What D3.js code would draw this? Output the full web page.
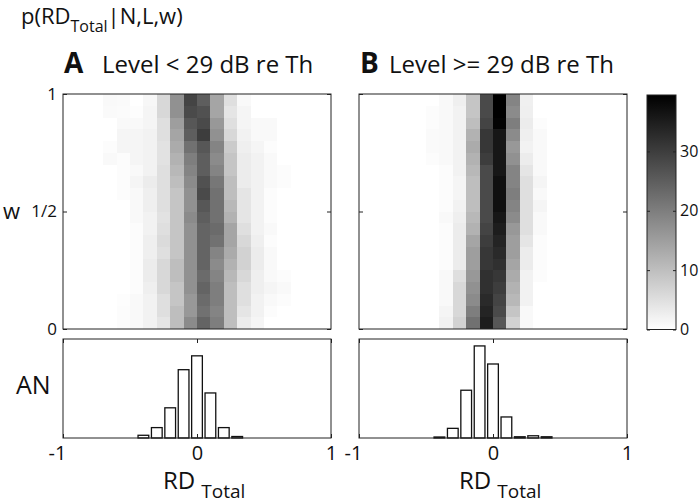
<!DOCTYPE html>
<html><head><meta charset="utf-8">
<script src="https://cdn.jsdelivr.net/npm/d3@7"></script>
<style>
body{margin:0;background:#fff}
svg{display:block}
text{font-family:"Open Sans",sans-serif;fill:#111}
</style>
</head><body><svg id="c" width="700" height="503"></svg>
<script>
// ---------- data ----------
const rdCenters = [-0.95,-0.85,-0.75,-0.65,-0.55,-0.45,-0.35,-0.25,-0.15,-0.05,0.05,0.15,0.25,0.35,0.45,0.55,0.65,0.75,0.85,0.95];
const wCenters = [0.975,0.925,0.875,0.825,0.775,0.725,0.675,0.625,0.575,0.525,0.475,0.425,0.375,0.325,0.275,0.225,0.175,0.125,0.075,0.025];
const heatA = [
[0,0,0,1.0,0.8,0,1.2,6,17,29,25,14,5,1,0,0,0,0,0,0],
[0,0,0,0.8,0.6,0.3,1.5,6,17,28,27,14,4,1.5,0,0,0,0,0,0],
[0,0,0,0,1,1,1.5,5,15,26,28,16,5,1.5,1,1,0,0,0,0],
[0,0,0,0,1.5,1.5,2,5,14,25,30,17,6,2,1,1,0,0,0,0],
[0,0,0,0.5,1.5,1.5,2,4.5,13,22,26,19,8,2.5,1.5,0.5,0,0,0,0],
[0,0,0,1,0.5,1.5,2,4.5,12,20,25,18,9,3,2,1,0,0,0,0],
[0,0,0,0,0.5,1,2,5,11,19,25,19,9,3,2,1,0.5,0,0,0],
[0,0,0,0,0.5,1.5,3,5,10,18,27,21,10,3,2,1,0.5,0,0,0],
[0,0,0,0,0.5,1,2.5,5,9,17,28,22,10,4,2,0.5,0,0,0,0],
[0,0,0,0,0,1,2.5,5,9,17,26,22,11,4,2,0.5,0,0,0,0],
[0,0,0,0,0,1,2,4.5,9,18,25,22,12,4,2,0.5,0,0,0,0],
[0,0,0,0,0,0.5,2,5,9,17,24,23,14,5,2,1,0,0,0,0],
[0,0,0,0,0,0.5,2.5,5.5,9,17,24,22,14,6,2.5,0.5,0,0,0,0],
[0,0,0,0,0,0.5,2.5,5,9,17,24,19,13,7,3,1,0,0,0,0],
[0,0,0,0,0,0.5,3,6,10,17,24,18,12,7,3,1,0,0,0,0],
[0,0,0,0,0,0.5,3,6,10,17,23,19,11,6,2.5,1,0.5,0,0,0],
[0,0,0,0,0,0.5,2.5,6,9,17,24,20,10,5,2.5,1.5,1,0,0,0],
[0,0,0,0,0.3,1,2,5,9,16,23,20,10,5,2,1,0.5,0,0,0],
[0,0,0,0,0.5,1,2,5,10,16,22,19,10,4,2,0.5,0,0,0,0],
[0,0,0,0,0.5,1,2,4,10,18,24,20,10,3,1.5,0,0,0,0,0]
];
const heatB = [
[0,0,0,0,0,0,1,2.5,9,28,39.5,19,2.3,0,0,0,0,0,0,0],
[0,0,0,0,0,0.5,1,2,9,28,39.5,18,2.5,0,0,0,0,0,0,0],
[0,0,0,0,0,0.5,1,2,10,29,39,20,3,0.5,0,0,0,0,0,0],
[0,0,0,0,0,0.8,1,2,12,31,36,18,2.5,1,0,0,0,0,0,0],
[0,0,0,0,0,0.8,1,2,13,31,36,16,2,1,0,0,0,0,0,0],
[0,0,0,0,0,0.5,1,2,12,30,36,17,3,1,0,0,0,0,0,0],
[0,0,0,0,0,0,0.5,2,11,28,36,19,4,1,0,0,0,0,0,0],
[0,0,0,0,0,0,0.5,1.5,10,28,37,19,5,1.5,0,0,0,0,0,0],
[0,0,0,0,0,0,0.5,1.5,10,28,37,20,5,1,0,0,0,0,0,0],
[0,0,0,0,0,0,0.5,2,10,28,37,19,5,1.5,0,0,0,0,0,0],
[0,0,0,0,0,0,1,2.5,11,28,36,18,5,1,0,0,0,0,0,0],
[0,0,0,0,0,0,0.5,3,12,29,35,16,5,1,0,0,0,0,0,0],
[0,0,0,0,0,0,0.5,3,14,30,34,15,4,0.5,0,0,0,0,0,0],
[0,0,0,0,0,0,0.5,3,15,31,33,15,3,0.5,0,0,0,0,0,0],
[0,0,0,0,0,0,0.5,3,15,31,32,14,3,0.5,0,0,0,0,0,0],
[0,0,0,0,0,0,1,5,16,32,31,13,2,0.5,0,0,0,0,0,0],
[0,0,0,0,0,0,1,6,17,32,30,12,2,0,0,0,0,0,0,0],
[0,0,0,0,0,0,1,6,18,33,29,11,2,0,0,0,0,0,0,0],
[0,0,0,0,0,0,1.5,6,20,34,28,9,1,0,0,0,0,0,0,0],
[0,0,0,0,0,0,2,7,22,35,26,7,1,0,0,0,0,0,0,0]
];
const histCenters = [-0.4,-0.3,-0.2,-0.1,0,0.1,0.2,0.3,0.4];
const histA = [0.011,0.042,0.122,0.276,0.332,0.182,0.042,0.006,0];
const histB = [0.004,0.039,0.193,0.372,0.299,0.085,0.005,0.009,0.005];
const rdTicks = [-1,0,1];
const rdTickLabels = ["-1","0","1"];
const wTicks = [0,0.5,1];
const wTickLabels = ["0","1/2","1"];
const colorTicks = [0,10,20,30];
const colorMax = 39.5;

// ---------- layout ----------
const svg = d3.select("#c");
svg.append("rect").attr("width",700).attr("height",503).attr("fill","#fff");
const FONT = "'Open Sans',sans-serif";
const panels = [
  {x0:63, x1:331, heat:heatA, hist:histA, letter:"A", label:"Level < 29 dB re Th", lx:102},
  {x0:359, x1:627, heat:heatB, hist:histB, letter:"B", label:"Level >= 29 dB re Th", lx:389}
];
const heatTop = 94, heatBot = 329, histTop = 339, histBot = 438;
const yW = d3.scaleLinear().domain([0,1]).range([heatBot, heatTop]);
const yH = d3.scaleLinear().domain([0,0.4]).range([histBot, histTop]);
const color = d3.scaleLinear().domain([0,colorMax]).range(["#ffffff","#000000"]).clamp(true);
const binW = 0.1, binH = 0.05;
const frame = "#222";

function styleAxis(g, size){
  g.attr("font-size",size).attr("font-family",FONT);
  g.select(".domain").remove();
  g.selectAll("line").attr("stroke",frame);
  g.selectAll("text").attr("fill","#111").style("font-size",size+"px").style("font-family",FONT);
}

panels.forEach((p,pi)=>{
  const x = d3.scaleLinear().domain([-1,1]).range([p.x0,p.x1]);
  const g = svg.append("g");
  p.heat.forEach((row,i)=>{
    g.selectAll(null).data(row).enter().append("rect")
      .attr("x",(d,j)=>x(rdCenters[j]-binW/2))
      .attr("width",(d,j)=>x(rdCenters[j]+binW/2)-x(rdCenters[j]-binW/2)+0.3)
      .attr("y",yW(wCenters[i]+binH/2))
      .attr("height",yW(wCenters[i]-binH/2)-yW(wCenters[i]+binH/2)+0.3)
      .attr("fill",d=>color(d))
      .attr("shape-rendering","crispEdges");
  });
  g.append("rect").attr("x",p.x0).attr("y",heatTop).attr("width",p.x1-p.x0).attr("height",heatBot-heatTop)
    .attr("fill","none").attr("stroke",frame).attr("stroke-width",1);
  const axL = d3.axisLeft(yW).tickValues(wTicks).tickSizeInner(-4).tickSizeOuter(0).tickPadding(6)
    .tickFormat((d,i)=>pi===0?wTickLabels[i]:"");
  styleAxis(svg.append("g").attr("transform",`translate(${p.x0},0)`).call(axL), 17);
  const axR = d3.axisRight(yW).tickValues(wTicks).tickSizeInner(-4).tickSizeOuter(0).tickFormat("");
  styleAxis(svg.append("g").attr("transform",`translate(${p.x1},0)`).call(axR), 17);

  // histogram
  const bw = binW*0.8;
  svg.append("g").selectAll("rect").data(p.hist).enter().append("rect")
    .attr("x",(d,i)=>x(histCenters[i]-bw/2))
    .attr("width",(d,i)=>x(histCenters[i]+bw/2)-x(histCenters[i]-bw/2))
    .attr("y",d=>yH(d))
    .attr("height",d=>histBot-yH(d))
    .attr("fill","#fff").attr("stroke","#111").attr("stroke-width",1.3);
  svg.append("rect").attr("x",p.x0).attr("y",histTop).attr("width",p.x1-p.x0).attr("height",histBot-histTop)
    .attr("fill","none").attr("stroke",frame).attr("stroke-width",1);
  const axB = d3.axisBottom(x).tickValues(rdTicks).tickSizeInner(-4).tickSizeOuter(0).tickPadding(8)
    .tickFormat((d,i)=>rdTickLabels[i]);
  const gB = svg.append("g").attr("transform",`translate(0,${histBot})`).call(axB);
  styleAxis(gB, 20);
  gB.selectAll("text").attr("dx",(d)=>d<0?-6:0);
  const axT = d3.axisTop(x).tickValues(rdTicks).tickSizeInner(-4).tickSizeOuter(0).tickFormat("");
  styleAxis(svg.append("g").attr("transform",`translate(0,${histTop})`).call(axT), 20);

  // panel titles
  svg.append("text").attr("x",p.x0+1).attr("y",73).attr("font-size",28).attr("font-weight","bold").text(p.letter);
  svg.append("text").attr("x",p.lx).attr("y",73).attr("font-size",24).text(p.label);
  // x label
  const cx = x(0);
  const t = svg.append("text").attr("x",cx-34).attr("y",489).attr("font-size",24);
  t.append("tspan").text("RD");
  t.append("tspan").attr("dx",6).attr("dy",9).attr("font-size",19).text("Total");
});

// left labels
svg.append("text").attr("x",3).attr("y",219).attr("font-size",22).text("w");
svg.append("text").attr("x",16).attr("y",394).attr("font-size",25).text("AN");

// main title
const tt = svg.append("text").attr("x",21).attr("y",24).attr("font-size",22);
tt.append("tspan").text("p(RD");
tt.append("tspan").attr("dy",8).attr("font-size",16).text("Total");
tt.append("tspan").attr("dy",-8).text("|N,L,w)");

// colorbar
const cbx0 = 647, cbx1 = 676;
const yC = d3.scaleLinear().domain([0,colorMax]).range([329.5,95]);
const defs = svg.append("defs");
const grad = defs.append("linearGradient").attr("id","cbg").attr("x1",0).attr("y1",1).attr("x2",0).attr("y2",0);
grad.selectAll("stop").data([0,colorMax]).enter().append("stop")
  .attr("offset",d=>d/colorMax).attr("stop-color",d=>color(d));
svg.append("rect").attr("x",cbx0).attr("y",yC(colorMax)).attr("width",cbx1-cbx0).attr("height",yC(0)-yC(colorMax))
  .attr("fill","url(#cbg)").attr("stroke",frame).attr("stroke-width",1);
const axC = d3.axisRight(yC).tickValues(colorTicks).tickSizeInner(-3).tickSizeOuter(0).tickPadding(4);
styleAxis(svg.append("g").attr("transform",`translate(${cbx1},0)`).call(axC), 16);
const axC2 = d3.axisLeft(yC).tickValues(colorTicks).tickSizeInner(-3).tickSizeOuter(0).tickFormat("");
styleAxis(svg.append("g").attr("transform",`translate(${cbx0},0)`).call(axC2), 16);
</script>
</body></html>
